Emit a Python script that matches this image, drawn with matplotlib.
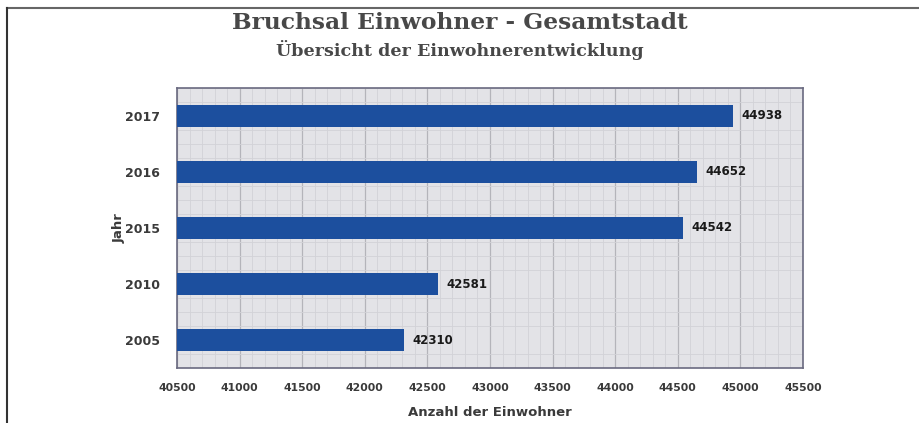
import numpy as np
import matplotlib.pyplot as plt
from matplotlib.lines import Line2D

# Data
years = ['2005', '2010', '2015', '2016', '2017']
residents = [42310, 42581, 44542, 44652, 44938]
x_ticks = list(range(40500, 46000, 500))

bar_color = '#1c4f9e'
text_color = '#3a3a3a'

fig = plt.figure(figsize=(9.2, 4.23), dpi=100)
ax = fig.add_axes([0.1924, 0.130, 0.6804, 0.662])

y_pos = np.arange(len(years))
ax.barh(y_pos, residents, height=0.39, color=bar_color, zorder=3)

# Grid like the spreadsheet chart: major and minor lines
ax.set_facecolor('#e3e3e7')
ax.set_xticks(x_ticks)
ax.set_xticks(np.arange(40500, 45501, 100), minor=True)
ax.set_yticks(y_pos)
ax.set_yticks(np.arange(-0.5, len(years) - 0.49, 0.25), minor=True)
ax.grid(True, which='major', axis='x', color='#b4b4ba', linewidth=0.9, zorder=0)
ax.grid(True, which='minor', color='#d2d2d7', linewidth=0.6, zorder=0)
ax.tick_params(which='both', length=0)
ax.set_yticklabels(years)

# Axis ranges (after the ticks so they don't get stretched)
ax.set_xlim(40500, 45500)
ax.set_ylim(-0.5, len(years) - 0.5)

for s in ax.spines.values():
    s.set_color('#6a6a80')
    s.set_linewidth(1.2)

for lbl in ax.get_xticklabels():
    lbl.set_fontweight('bold')
    lbl.set_fontsize(7.8)
    lbl.set_color(text_color)
for lbl in ax.get_yticklabels():
    lbl.set_fontweight('bold')
    lbl.set_fontsize(9)
    lbl.set_color(text_color)
ax.tick_params(axis='x', pad=11)
ax.tick_params(axis='y', pad=12)

# Value labels
for y, v in zip(y_pos, residents):
    ax.text(v + 70, y, str(v), va='center', ha='left', fontsize=8.5,
            fontweight='bold', color='#1a1a1a', zorder=4)

ax.set_xlabel('Anzahl der Einwohner', fontsize=9.5, fontweight='bold',
              color=text_color, labelpad=9)
ax.set_ylabel('Jahr', fontsize=9.5, fontweight='bold', color=text_color)
ax.yaxis.set_label_coords(-0.082, 0.5)

# Titles
fig.text(0.5, 0.946, 'Bruchsal Einwohner - Gesamtstadt', ha='center', va='center',
         fontsize=16.8, fontweight='bold', family='DejaVu Serif', color='#484848')
fig.text(0.5, 0.882, 'Übersicht der Einwohnerentwicklung', ha='center', va='center',
         fontsize=12.6, fontweight='bold', family='DejaVu Serif', color='#484848')

# Frame lines at the top and left edge
fig.add_artist(Line2D([0.0076, 1.0], [0.981, 0.981], color='#666666', linewidth=1.5))
fig.add_artist(Line2D([0.0076, 0.0076], [0.0, 0.981], color='#333333', linewidth=1.5))

fig.savefig('out.png', dpi=100)
